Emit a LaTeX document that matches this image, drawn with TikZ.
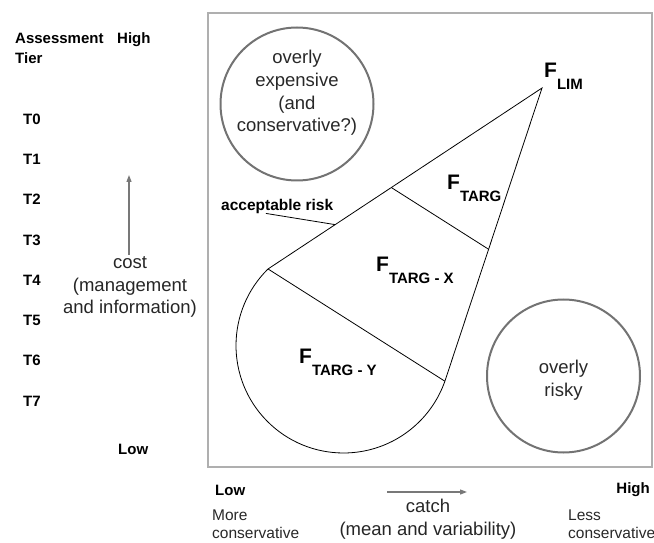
\documentclass[tikz,border=0pt]{standalone}
\usepackage{fontspec}
\setmainfont{Liberation Sans}
\usetikzlibrary{calc,arrows.meta}
\definecolor{framegray}{RGB}{175,175,175}
\definecolor{ringgray}{RGB}{115,115,115}
\definecolor{arrowgray}{RGB}{120,120,120}
\definecolor{textgray}{RGB}{40,40,40}
\newcommand{\fsize}[1]{\fontsize{#1}{#1}\selectfont}
\newcommand{\flab}[1]{{\fsize{21}F}\raisebox{-12pt}{\fsize{15}#1}}

\begin{document}
\begin{tikzpicture}[x=1pt,y=1pt,
    tier/.style={anchor=west, inner sep=0pt, font={\fsize{15}\bfseries}},
    zone/.style={circle, draw=ringgray, line width=2pt, minimum size=153pt, inner sep=0pt},
    words/.style={align=center, inner sep=0pt, text=textgray, font={\fontsize{18.5}{22.7}\selectfont}},
    side/.style={align=left, anchor=west, inner sep=0pt, text=textgray, font={\fontsize{15.5}{18.5}\selectfont}},
    flbl/.style={anchor=base west, inner sep=0pt, font=\bfseries},
    axis/.style={arrowgray, line width=1.2pt, -{Triangle[length=7pt,width=5pt]}}]
	\useasboundingbox (0,0) rectangle (654,542);

	% Draw the frame
	\draw[framegray, line width=1.5pt] (208,75) rectangle (652,529);

	% Label the tiers
	\node[tier, anchor=base west] (assess) at (15,498) {Assessment};
	\node[tier, anchor=base west] (tier) at (15,478) {Tier};
	\node[tier, anchor=base west] (costhi) at (117,498) {High};
	\foreach \t in {0,...,7}
		\node[tier] (t\t) at (23,{423-40.3*\t}) {T\t};
	\node[tier] (costlo) at (118,93) {Low};

	% Cost axis
	\coordinate (costfoot) at (129,287);
	\coordinate (costhead) at (129,367);
	\draw[axis] (costfoot) -- (costhead);
	\node[words, text=black!85] (cost) at (130,255) {cost\\(management\\and information)};

	% Catch axis
	\coordinate (catchfoot) at (387,50);
	\coordinate (catchhead) at (467,50);
	\draw[axis] (catchfoot) -- (catchhead);
	\node[words, text=black!85, font={\fontsize{18.5}{23}\selectfont}] (catch) at (428,23) {catch\\(mean and variability)};
	\node[tier] (catchlo) at (215,52) {Low};
	\node[tier, anchor=east] (catchhi) at (650,52) {High};
	\node[side] (more) at (212,18) {More\\conservative};
	\node[side] (less) at (568,18) {Less\\conservative};

	% Draw the two zones
	\node[zone] (dear) at (297,438) {};
	\node[words] at (297,449) {overly\\expensive\\(and\\conservative?)};
	\node[zone] (risky) at (563.5,166) {};
	\node[words] at (563.5,162) {overly\\risky};

	% Draw the cone
	\coordinate (flim) at (542,454);
	\coordinate (cc) at (343.5,196.5);
	\coordinate (p1) at ($(cc)+(134.6:107.5)$);
	\draw[line width=0.8pt] (flim) -- (p1) arc[start angle=134.6, end angle=340.6, radius=107.5] coordinate (p2) -- cycle;
	\draw[line width=0.8pt] ($(flim)!0.55!(p1)$) -- ($(flim)!0.55!(p2)$);
	\draw[line width=0.8pt] (p1) -- (p2);

	% Label the cone
	\node[flbl] (lim) at (544,464) {\flab{LIM}};
	\node[flbl] (targ) at (447,352) {\flab{TARG}};
	\node[flbl] (targx) at (376,270) {\flab{TARG - X}};
	\node[flbl] (targy) at (299,179) {\flab{TARG - Y}};

	% Acceptable risk
	\node[anchor=west, inner sep=0pt, font={\fsize{15.5}\bfseries}] (acc) at (221,336) {acceptable risk};
	\draw[line width=0.8pt] ($(acc.south west)!0.4!(acc.south east)$) -- ($(flim)!0.755!(p1)$);
\end{tikzpicture}
\end{document}
